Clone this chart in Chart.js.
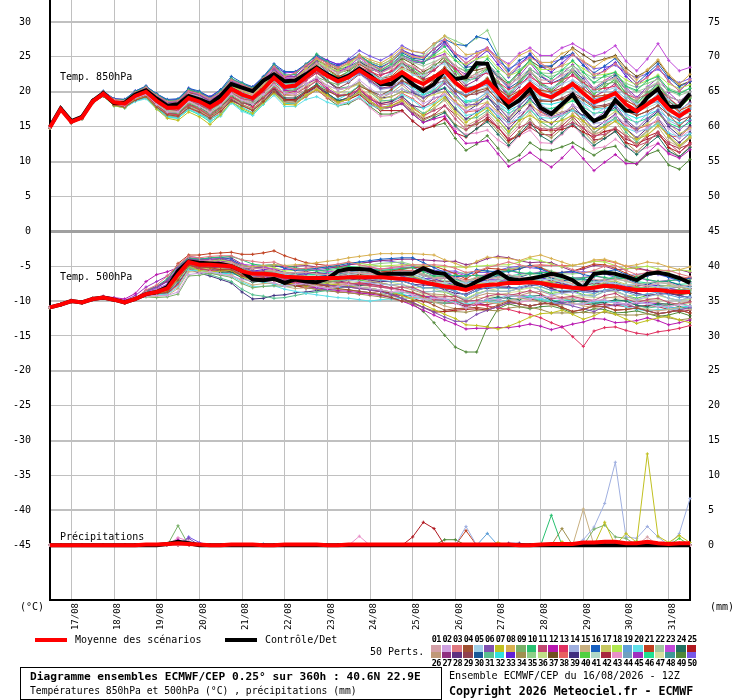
<!DOCTYPE html>
<html lang="fr">
<head>
<meta charset="UTF-8">
<title>Diagramme ensembles ECMWF/CEP - 40.6N 22.9E</title>
<script src="https://cdn.jsdelivr.net/npm/chart.js"></script>
<style>
  body { margin: 0; background: #fff; }
  #wrap { position: relative; width: 740px; height: 700px; overflow: hidden; font-family: 'DejaVu Sans Mono', monospace; color: #000; }
  #ens { position: absolute; left: 0; top: 0; }
  .t { position: absolute; white-space: nowrap; font-size: 10px; line-height: 10px; }
  .bar { position: absolute; height: 4px; width: 32px; }
  .box { position: absolute; width: 9.6px; height: 6.5px; }
  .num { position: absolute; width: 10.65px; text-align: center; font-size: 8.5px; line-height: 9px; font-weight: bold; letter-spacing: -0.6px; }
  #titlebox { position: absolute; left: 20px; top: 667px; width: 422px; height: 33px; border: 1px solid #000; box-sizing: border-box; }
</style>
</head>
<body>
<div id="wrap">
  <canvas id="ens" width="740" height="700"></canvas>

  <div class="t" style="left:60px;top:72px">Temp. 850hPa</div>
  <div class="t" style="left:60px;top:272px">Temp. 500hPa</div>
  <div class="t" style="left:60px;top:532px">Précipitations</div>
  <div class="t" style="left:20px;top:602px">(°C)</div>
  <div class="t" style="left:710px;top:602px">(mm)</div>

  <div class="bar" style="left:35px;top:638px;background:#ff0000"></div>
  <div class="t" style="left:75px;top:635px">Moyenne des scénarios</div>
  <div class="bar" style="left:225px;top:638px;background:#000"></div>
  <div class="t" style="left:265px;top:635px">Contrôle/Det</div>
  <div class="t" style="left:370px;top:647px">50 Perts.</div>
  <div id="perts"></div>

  <div id="titlebox"></div>
  <div class="t" style="left:30px;top:672px;font-size:11.2px;font-weight:bold">Diagramme ensembles ECMWF/CEP 0.25° sur 360h : 40.6N 22.9E</div>
  <div class="t" style="left:30px;top:686px;font-size:9.7px">Températures 850hPa et 500hPa (°C) , précipitations (mm)</div>
  <div class="t" style="left:449px;top:671px;font-size:10.1px">Ensemble ECMWF/CEP du 16/08/2026 - 12Z</div>
  <div class="t" style="left:449px;top:686px;font-size:11.6px;font-weight:bold">Copyright 2026 Meteociel.fr - ECMWF</div>
</div>

<script>
// --- données lues sur le diagramme (pas de 6h depuis le 16/08 12Z) ---
const days = ['17/08', '18/08', '19/08', '20/08', '21/08', '22/08', '23/08', '24/08',
              '25/08', '26/08', '27/08', '28/08', '29/08', '30/08', '31/08'];
const hours = Array.from({length: 61}, (_, i) => i * 6);
const leftTicks = [30, 25, 20, 15, 10, 5, 0, -5, -10, -15, -20, -25, -30, -35, -40, -45];
const rightTicks = [75, 70, 65, 60, 55, 50, 45, 40, 35, 30, 25, 20, 15, 10, 5, 0];

const memberColors = [
  '#d4a0a8', '#d0a0e0', '#e07880', '#a05030', '#a0d0e8', '#8050b0', '#c0c020', '#d8b050', '#78b068', '#28c070',
  '#c04870', '#b818b0', '#e03060', '#a0b0e0', '#c8b080', '#1860c0', '#c8c860', '#b0e850', '#60a0d8', '#60e0e8',
  '#c04020', '#a0c8a0', '#c048d8', '#207060', '#b01820', '#c09878', '#903080', '#603080', '#904050', '#185898',
  '#58c090', '#30e0e0', '#6020d8', '#a09050', '#90d088', '#c0e088', '#705020', '#e86060', '#403080', '#50d040',
  '#b0d8c8', '#a82840', '#e890c8', '#70a0c0', '#a030c0', '#20e090', '#d8e0a0', '#409898', '#508838', '#7858e8'
];

const t850Mean = [14.9, 17.5, 15.7, 16.3, 18.6, 19.7, 18.5, 18.3, 19.4, 20.0, 18.7, 17.7, 17.7, 19.1, 18.6, 17.8, 18.7, 20.4, 19.6, 19.1,
  20.4, 22.0, 20.7, 20.9, 22.1, 23.3, 22.3, 21.5, 22.1, 23.1, 22.1, 21.3, 21.8, 22.8, 21.8, 21.1, 22.1, 23.0, 21.3, 20.1,
  20.7, 21.5, 19.9, 18.5, 19.7, 21.1, 19.7, 19.2, 20.1, 21.1, 19.8, 18.5, 19.1, 19.8, 18.2, 17.2, 18.2, 19.2, 17.5, 16.5, 17.5];
const t850Ctrl = [15.0, 17.6, 15.8, 16.4, 18.7, 19.8, 18.4, 18.4, 19.6, 20.2, 19.0, 18.0, 18.2, 19.4, 18.9, 18.3, 19.4, 21.1, 20.6, 20.1,
  21.6, 22.5, 21.5, 21.6, 22.5, 23.5, 22.5, 21.7, 22.3, 23.3, 22.3, 21.1, 21.1, 22.5, 21.1, 20.1, 21.1, 23.0, 21.8, 22.1,
  24.1, 24.0, 19.9, 17.8, 18.8, 20.4, 17.7, 16.8, 18.2, 19.6, 17.3, 15.8, 16.5, 18.8, 17.3, 17.2, 19.2, 20.4, 17.8, 17.9, 19.7];
const t500Mean = [-10.9, -10.5, -10.0, -10.2, -9.7, -9.5, -9.8, -10.2, -9.7, -9.0, -8.7, -8.2, -6.2, -4.4, -4.8, -4.8, -4.9, -5.0, -5.7, -6.1,
  -6.1, -6.2, -6.5, -6.6, -6.7, -6.7, -6.7, -6.7, -6.6, -6.6, -6.6, -6.6, -6.7, -6.8, -7.0, -7.3, -7.6, -7.9, -8.1, -8.4,
  -7.9, -7.7, -7.6, -7.4, -7.4, -7.3, -7.4, -7.7, -7.9, -8.1, -8.2, -8.1, -7.8, -7.9, -8.2, -8.4, -8.4, -8.4, -8.6, -8.7, -8.7];
const t500Ctrl = [-10.9, -10.5, -10.0, -10.2, -9.7, -9.5, -9.8, -10.2, -9.7, -9.0, -8.7, -8.0, -5.7, -4.3, -4.5, -4.6, -4.7, -5.0, -5.7, -6.9,
  -7.0, -6.8, -7.4, -6.9, -7.2, -7.3, -6.8, -5.7, -5.4, -5.4, -5.5, -6.2, -6.1, -6.1, -6.1, -5.3, -5.9, -6.1, -7.4, -8.1,
  -7.2, -6.5, -5.8, -6.8, -7.0, -6.8, -6.5, -6.1, -6.4, -7.0, -8.1, -6.1, -5.9, -6.1, -6.5, -7.0, -6.1, -5.9, -6.2, -6.7, -7.4];
const precipMean = [0, 0, 0, 0, 0, 0, 0, 0, 0, 0.1, 0.1, 0.2, 0.3, 0.2, 0.1, 0, 0, 0.1, 0.1, 0.1,
  0, 0, 0.1, 0.1, 0.1, 0.1, 0, 0, 0.1, 0.1, 0.1, 0.1, 0.1, 0.1, 0.1, 0.1, 0.1, 0.1, 0.1, 0.1,
  0.1, 0.1, 0.1, 0.1, 0, 0, 0.1, 0.2, 0.2, 0.2, 0.4, 0.4, 0.5, 0.5, 0.3, 0.3, 0.5, 0.3, 0.2, 0.3, 0.3];
const precipCtrl = [0, 0, 0, 0, 0, 0, 0, 0, 0, 0, 0, 0.2, 0.5, 0.3, 0, 0, 0, 0, 0, 0,
  0, 0, 0, 0, 0, 0, 0, 0, 0, 0, 0, 0, 0, 0, 0, 0, 0, 0, 0, 0,
  0, 0, 0, 0, 0, 0, 0, 0, 0, 0, 0, 0, 0, 0, 0, 0, 0, 0, 0, 0, 0];

// perturbations 01..50, en dixièmes de °C
const t850Members = [
  "150 176 157 164 187 199 187 186 197 203 191 182 182 197 192 183 193 211 203 197 212 228 217 219 230 241 233 227 233 241 233 227 234 243 236 231 241 252 238 221 225 237 219 210 219 229 217 216 223 231 216 205 216 220 202 190 204 212 193 187 195",
  "149 174 157 162 186 195 183 180 191 196 182 171 171 186 179 170 181 197 188 182 196 210 198 197 211 221 209 203 206 217 205 195 198 204 196 183 191 196 183 173 175 180 169 153 169 176 167 164 168 181 173 155 156 166 154 142 148 162 147 133 145",
  "150 177 158 164 188 200 189 187 199 206 195 186 187 201 197 190 199 217 210 204 219 236 222 227 238 249 241 235 243 251 239 233 243 258 250 249 261 275 255 241 251 263 244 225 239 249 241 232 237 253 243 225 229 240 228 212 220 236 215 201 217",
  "148 174 155 162 184 194 181 178 188 193 178 167 165 177 171 162 172 187 180 173 186 200 188 187 201 209 201 194 196 208 201 195 203 216 208 203 216 220 201 193 201 205 187 177 187 197 187 186 189 196 188 177 179 184 172 166 172 180 167 151 165",
  "149 176 157 163 187 198 185 182 195 202 189 178 176 191 188 181 188 204 198 194 206 224 210 210 221 231 225 219 227 236 224 219 226 238 224 223 236 240 221 213 223 229 209 200 209 219 207 206 211 217 210 200 201 206 194 182 188 202 189 175 183",
  "150 175 158 165 187 199 188 187 197 205 193 185 186 201 195 186 197 215 208 201 216 230 215 215 229 243 228 217 221 227 215 205 206 213 200 191 199 212 198 181 182 193 179 161 179 196 175 167 181 193 176 160 171 182 160 147 162 174 153 145 159",
  "148 173 156 161 185 194 180 177 189 193 175 162 159 171 164 153 167 186 176 169 184 198 182 181 195 203 195 185 189 201 187 177 180 188 176 166 181 192 171 156 167 177 159 143 159 166 157 156 159 166 158 147 149 158 146 132 138 152 137 123 135",
  "149 176 158 163 187 198 187 184 196 203 190 181 179 194 191 182 190 209 202 195 210 228 217 218 233 247 238 233 241 253 246 241 250 263 258 256 269 280 268 253 255 260 249 237 252 259 242 242 255 261 244 235 246 250 230 217 232 246 225 211 225",
  "148 175 156 163 185 195 182 181 190 197 182 171 169 184 177 168 179 195 186 183 194 208 199 203 211 221 215 210 219 231 224 218 226 240 228 226 239 244 223 217 227 233 214 197 215 231 211 202 217 229 210 200 211 214 194 187 200 206 185 180 193",
  "150 177 159 164 188 200 189 188 200 207 196 187 188 203 199 190 201 219 212 205 220 238 224 225 239 254 243 233 241 253 241 231 240 253 246 241 253 265 245 231 235 247 229 213 229 246 227 218 231 245 228 213 223 228 208 202 216 222 203 197 205",
  "149 174 157 164 186 196 185 181 193 198 184 175 173 188 181 174 184 199 190 187 199 212 197 197 206 215 203 193 196 203 191 181 183 190 178 166 173 180 161 146 157 167 149 133 149 156 147 146 149 156 148 137 139 148 136 122 128 142 127 113 125",
  "149 176 157 164 186 198 187 186 196 201 189 180 179 192 189 182 189 205 199 193 204 218 202 201 211 218 205 195 196 203 191 178 178 183 168 156 161 165 143 126 127 130 111 93 102 113 102 92 105 121 104 87 99 110 97 97 112 126 111 105 117",
  "148 174 157 162 185 195 182 179 191 195 181 169 167 182 175 166 177 192 185 178 192 206 197 201 216 227 221 215 223 236 229 223 230 243 236 225 231 245 233 219 222 227 214 203 211 221 212 212 217 223 213 203 205 208 197 190 196 204 191 179 193",
  "150 175 158 163 187 199 188 185 198 203 192 183 184 197 194 185 196 212 203 200 212 230 213 213 223 233 221 211 215 226 213 203 206 218 203 193 207 218 197 181 189 200 184 167 183 201 182 172 185 199 183 167 177 188 167 154 168 180 159 151 165",
  "148 175 156 162 186 195 181 180 189 194 179 167 165 177 173 163 173 192 181 175 186 200 185 185 196 205 193 183 191 198 186 175 178 186 173 163 176 188 167 151 159 170 154 137 153 171 152 142 155 169 153 137 147 158 137 124 138 150 129 121 135",
  "150 177 158 165 188 201 190 189 201 208 197 189 190 205 201 192 203 222 213 207 222 240 229 229 240 251 243 237 245 253 241 235 243 256 248 246 261 275 268 266 279 275 249 230 245 253 237 237 249 255 238 227 237 248 227 212 226 240 220 207 215",
  "149 175 156 163 185 196 183 180 192 196 183 172 171 184 180 170 180 198 188 182 194 212 195 199 207 221 208 197 205 211 199 189 193 200 196 191 196 200 185 177 181 185 171 160 175 185 167 164 177 191 173 157 161 172 160 147 154 168 155 140 147",
  "149 176 157 164 186 198 187 185 197 202 190 181 182 195 189 183 193 209 200 197 209 227 216 219 233 247 235 230 239 251 243 238 246 258 250 246 251 258 245 239 247 251 234 223 229 241 232 232 237 243 233 223 225 228 217 210 216 224 211 205 210",
  "149 175 158 163 186 197 184 182 194 198 185 174 176 189 182 175 185 203 193 187 202 220 204 204 217 231 223 212 215 227 219 208 210 223 216 211 217 222 203 195 205 210 191 181 197 206 189 188 201 205 190 181 189 192 174 168 182 186 167 161 175",
  "148 174 155 162 184 194 181 177 186 190 175 163 162 175 168 158 165 184 172 166 182 195 179 179 189 193 185 180 185 193 181 175 183 196 188 176 183 196 183 166 169 179 165 155 162 173 163 162 166 173 164 155 156 160 148 142 147 154 141 135 140",
  "150 175 158 164 186 199 186 186 198 203 192 183 185 198 195 186 194 213 206 199 213 231 217 217 227 241 233 222 226 239 231 219 222 236 228 217 223 235 221 205 207 219 204 193 201 211 202 200 205 213 204 193 195 198 187 180 186 194 181 173 180",
  "149 174 157 163 185 196 183 182 191 198 184 173 172 187 183 173 181 200 193 186 200 218 207 211 225 239 231 225 233 245 237 231 238 250 242 237 243 250 237 229 237 241 224 213 221 233 223 222 227 233 223 213 215 218 207 200 206 214 201 195 200",
  "150 176 159 164 187 199 188 187 199 204 193 184 185 200 196 189 197 213 207 203 217 234 219 219 233 248 237 227 236 249 237 227 236 250 244 241 255 268 255 241 252 263 249 240 255 263 252 252 263 269 260 251 256 266 244 230 247 269 245 230 235",
  "149 174 156 163 185 195 182 181 190 195 181 170 169 182 178 168 178 193 184 181 192 206 191 191 201 211 198 187 191 199 186 175 178 183 168 156 163 170 151 136 147 157 139 123 139 156 137 128 141 155 138 123 133 143 122 110 124 136 115 107 120",
  "149 175 157 164 186 198 185 185 195 202 189 178 177 193 187 176 183 198 188 181 192 205 189 189 199 208 195 185 189 196 183 173 173 173 158 146 151 162 141 135 147 160 149 130 137 153 145 144 146 151 142 135 143 146 127 122 136 142 120 113 127",
  "148 175 156 162 186 195 182 179 189 196 181 170 169 182 176 167 177 195 185 179 191 206 195 194 203 217 209 203 206 213 201 191 198 210 196 186 201 214 193 177 185 197 179 163 179 196 177 167 171 176 158 140 143 148 137 132 144 157 135 120 133",
  "150 176 158 165 187 200 189 188 200 206 195 186 187 202 198 191 199 215 209 205 219 236 221 221 235 249 241 230 233 245 237 225 228 242 230 219 231 244 225 209 217 229 211 193 207 225 209 200 211 225 210 193 201 212 194 180 192 206 187 173 185",
  "148 174 156 161 185 194 181 178 188 193 178 167 165 178 172 163 173 188 181 174 186 203 187 187 197 207 198 187 191 203 189 183 186 193 180 177 191 195 175 161 171 181 164 147 163 181 162 154 167 181 163 147 157 168 147 134 148 162 140 127 141",
  "149 176 157 163 187 198 187 184 197 202 190 179 181 194 191 182 190 206 200 196 208 222 207 207 217 227 215 205 213 225 217 205 208 216 210 206 211 216 203 195 197 203 189 177 185 197 187 186 191 199 190 179 181 186 174 166 172 180 167 159 165",
  "149 175 157 162 186 197 186 183 193 201 187 176 178 193 186 177 188 207 198 192 207 225 214 218 232 246 238 232 236 244 232 228 236 250 243 241 256 270 251 235 237 240 221 205 215 233 222 212 219 233 218 203 213 223 202 190 204 212 193 187 195",
  "149 176 158 163 186 198 187 186 196 203 191 182 183 196 190 184 194 210 201 198 210 228 212 211 221 230 217 205 207 213 199 187 188 194 180 169 176 190 177 161 163 173 159 141 159 176 157 148 161 175 158 141 153 163 142 128 144 156 135 121 137",
  "148 173 156 161 184 194 180 177 187 192 177 165 163 175 168 161 168 184 178 170 184 198 183 184 195 209 195 189 197 209 201 195 202 214 206 196 203 216 203 187 189 199 184 173 181 193 183 182 186 193 184 175 176 180 168 162 167 174 161 155 160",
  "150 177 158 165 187 200 190 189 201 208 197 188 189 205 199 193 203 218 211 207 221 238 227 228 239 253 245 239 243 251 243 238 246 260 253 249 261 272 251 236 247 259 239 221 237 255 237 228 241 255 238 221 231 242 222 208 222 236 215 201 215",
  "148 175 156 163 185 195 182 179 189 194 179 168 167 180 174 164 174 192 182 176 188 202 187 187 197 207 195 185 189 197 185 175 178 184 170 159 166 172 153 145 155 160 144 127 143 161 142 134 147 161 143 127 137 148 127 114 128 142 120 107 121",
  "149 176 157 164 186 198 185 185 195 203 189 180 178 193 190 181 189 208 199 193 207 225 211 215 229 243 235 229 237 249 241 235 243 258 253 251 266 280 273 266 277 288 254 225 232 243 227 226 231 237 228 219 221 224 212 206 212 218 205 199 205",
  "149 174 157 162 186 196 183 182 191 198 184 173 172 185 182 173 181 197 191 185 197 212 201 205 219 233 225 215 219 227 219 213 220 233 226 215 221 235 221 205 207 220 204 193 201 211 202 200 205 211 203 193 195 198 187 180 186 192 180 173 179",
  "150 175 158 164 187 199 188 186 198 205 193 184 185 200 194 188 196 215 206 200 214 232 217 217 231 245 237 227 231 243 235 229 236 248 240 229 236 250 237 229 231 235 221 211 227 245 235 236 249 263 253 243 247 252 234 222 230 244 223 209 215",
  "148 174 155 162 185 194 181 178 187 192 177 165 164 176 170 160 170 189 180 173 184 198 183 183 193 203 191 185 193 205 193 183 186 198 190 179 185 200 187 171 173 185 171 153 161 181 171 162 167 173 158 141 151 162 152 146 152 158 137 135 149",
  "150 175 157 164 186 199 186 186 198 203 191 182 183 196 193 184 195 211 202 199 210 224 209 209 219 229 215 203 206 213 201 191 193 200 198 192 199 205 185 171 181 193 174 157 173 191 172 164 169 175 166 157 167 178 157 144 158 172 150 137 151",
  "149 175 156 163 186 196 183 183 193 198 184 175 173 188 184 174 182 201 192 189 204 222 211 215 229 243 231 221 229 241 233 227 234 246 232 221 236 250 229 213 222 233 214 197 213 231 212 202 215 229 213 197 207 218 197 182 196 210 190 177 191",
  "150 176 157 164 187 199 188 187 199 206 194 185 186 201 197 188 199 217 207 203 217 234 219 219 229 239 227 217 221 229 217 207 213 220 214 211 216 222 209 201 202 207 194 183 191 203 193 192 196 203 194 185 186 190 178 172 177 184 171 165 170",
  "148 175 157 162 186 195 182 179 191 195 181 170 169 182 176 170 178 193 186 179 190 204 189 189 199 209 197 187 191 199 187 177 180 186 172 161 167 180 167 151 153 163 149 131 139 149 139 138 151 165 148 131 133 144 132 126 132 138 125 119 125",
  "149 176 157 164 187 198 187 185 197 202 190 181 182 195 189 180 187 201 190 183 194 208 192 191 201 209 195 183 185 191 177 165 166 172 158 147 153 160 147 139 141 145 131 121 137 145 127 126 139 153 136 119 121 132 120 114 120 126 113 107 121",
  "149 175 157 162 186 196 185 181 193 197 185 174 173 189 183 174 185 203 193 187 202 220 209 213 223 233 221 215 223 235 227 217 220 233 226 216 223 235 221 206 209 220 207 190 199 216 205 197 203 216 206 190 193 203 190 177 184 197 183 170 177",
  "150 177 158 164 188 200 189 188 200 207 196 187 188 203 199 192 200 216 210 206 220 237 222 222 236 250 242 236 244 252 240 230 238 252 246 243 249 254 233 225 235 241 224 207 223 241 223 214 226 239 222 205 216 226 206 192 207 220 199 185 200",
  "148 173 156 162 184 194 180 177 187 191 176 164 162 174 167 157 167 186 174 167 182 200 183 183 196 211 203 193 197 209 201 195 198 204 198 195 201 206 193 185 187 191 179 169 177 187 177 176 181 187 178 169 171 174 162 156 162 168 155 149 155",
  "149 175 158 163 186 198 185 184 196 200 188 179 177 190 187 178 185 200 193 186 198 212 197 197 207 217 205 195 199 207 195 185 188 194 180 169 181 194 173 157 167 179 159 141 157 175 157 148 161 175 158 141 151 162 142 128 142 156 135 121 135",
  "149 174 157 162 186 196 183 180 192 196 183 172 171 184 181 172 180 196 190 184 196 214 203 207 221 235 227 221 229 241 229 219 226 240 234 225 231 244 231 217 219 231 213 195 211 229 213 204 217 231 214 197 207 218 198 184 198 212 191 177 191",
  "148 175 156 162 186 195 182 179 189 195 180 169 168 181 174 165 175 190 181 175 186 200 185 184 193 203 191 180 183 191 179 168 168 173 158 146 151 155 133 116 125 137 119 101 109 127 117 116 121 127 118 109 119 122 102 96 110 116 95 89 103",
  "150 175 158 163 187 199 188 187 197 204 192 183 184 199 195 186 197 215 206 200 214 232 221 225 239 253 245 239 247 259 251 245 253 266 258 255 269 275 255 247 257 263 244 233 241 251 242 242 247 253 243 233 235 238 227 220 226 232 220 213 219"
];

const t500Members = [
  "-109 -104 -100 -103 -97 -94 -98 -103 -97 -88 -84 -78 -57 -41 -43 -42 -45 -45 -51 -53 -53 -56 -60 -59 -59 -61 -62 -60 -58 -60 -61 -59 -59 -58 -58 -63 -68 -67 -67 -72 -69 -69 -66 -62 -66 -67 -64 -65 -71 -75 -72 -69 -70 -69 -70 -76 -78 -74 -74 -79 -77",
  "-109 -106 -100 -102 -98 -95 -97 -102 -98 -93 -92 -92 -87 -62 -60 -58 -61 -64 -69 -71 -71 -74 -79 -76 -75 -79 -82 -79 -76 -80 -82 -84 -87 -86 -92 -98 -96 -97 -103 -110 -103 -97 -98 -92 -94 -97 -94 -93 -99 -105 -104 -99 -98 -103 -104 -102 -104 -108 -108 -105 -107",
  "-108 -105 -99 -102 -96 -95 -97 -102 -96 -84 -77 -64 -48 -36 -38 -36 -35 -35 -41 -43 -45 -44 -50 -54 -53 -51 -49 -47 -44 -48 -51 -54 -52 -50 -48 -48 -48 -49 -53 -59 -57 -52 -48 -44 -48 -51 -49 -49 -49 -55 -60 -56 -50 -49 -56 -62 -59 -56 -56 -61 -65",
  "-110 -105 -101 -102 -97 -96 -98 -101 -97 -92 -90 -87 -70 -49 -51 -52 -55 -55 -64 -69 -67 -70 -75 -78 -77 -75 -79 -82 -84 -86 -88 -91 -95 -100 -100 -99 -106 -113 -111 -110 -109 -111 -106 -100 -104 -107 -104 -103 -109 -115 -112 -107 -108 -113 -112 -110 -114 -118 -116 -113 -117",
  "-109 -105 -99 -102 -98 -95 -98 -101 -97 -89 -85 -82 -64 -44 -46 -47 -46 -48 -57 -63 -61 -60 -61 -64 -67 -69 -67 -65 -62 -60 -62 -64 -63 -62 -62 -68 -74 -74 -73 -74 -73 -73 -71 -66 -68 -69 -69 -69 -73 -77 -77 -73 -72 -75 -77 -76 -78 -80 -81 -79 -81",
  "-109 -104 -100 -101 -97 -96 -98 -102 -96 -85 -79 -70 -52 -40 -42 -40 -39 -42 -51 -57 -59 -62 -67 -70 -73 -75 -77 -79 -80 -82 -84 -86 -91 -96 -102 -109 -116 -123 -129 -129 -119 -113 -108 -102 -104 -107 -104 -103 -103 -107 -111 -115 -108 -105 -104 -110 -114 -118 -116 -113 -109",
  "-109 -106 -100 -101 -97 -95 -99 -102 -97 -91 -89 -86 -68 -50 -56 -58 -57 -56 -65 -71 -69 -68 -73 -76 -79 -77 -75 -77 -78 -80 -82 -84 -87 -92 -98 -105 -112 -119 -125 -134 -135 -137 -140 -136 -130 -123 -118 -117 -113 -119 -126 -121 -114 -119 -126 -132 -128 -124 -122 -127 -131",
  "-108 -105 -100 -103 -97 -94 -98 -102 -98 -88 -86 -79 -60 -42 -44 -43 -46 -44 -49 -51 -49 -48 -49 -48 -47 -45 -43 -41 -38 -36 -34 -32 -32 -32 -32 -33 -34 -41 -46 -52 -43 -37 -38 -39 -42 -37 -34 -39 -44 -49 -46 -41 -40 -44 -50 -48 -44 -46 -51 -55 -51",
  "-110 -105 -100 -101 -97 -95 -99 -102 -96 -94 -95 -94 -90 -64 -63 -60 -63 -66 -75 -81 -79 -78 -79 -78 -77 -75 -73 -71 -68 -66 -64 -66 -69 -66 -65 -71 -78 -77 -76 -82 -81 -75 -76 -70 -72 -75 -74 -73 -77 -83 -82 -77 -76 -81 -82 -80 -82 -86 -86 -83 -85",
  "-109 -104 -99 -102 -96 -95 -98 -101 -97 -86 -79 -68 -50 -38 -40 -38 -37 -36 -41 -47 -49 -48 -49 -52 -55 -57 -55 -53 -50 -52 -54 -56 -55 -53 -52 -58 -64 -64 -63 -64 -63 -65 -61 -56 -59 -61 -59 -59 -64 -67 -67 -64 -66 -69 -67 -66 -69 -72 -71 -69 -72",
  "-109 -105 -101 -102 -96 -95 -98 -103 -97 -90 -88 -84 -65 -46 -52 -51 -51 -54 -63 -66 -65 -64 -69 -72 -75 -73 -71 -73 -74 -76 -78 -80 -82 -80 -80 -87 -94 -94 -93 -100 -99 -93 -90 -92 -89 -85 -90 -97 -95 -93 -97 -99 -92 -89 -97 -102 -98 -96 -102 -105 -101",
  "-108 -105 -99 -102 -96 -93 -95 -97 -89 -72 -62 -58 -52 -38 -40 -42 -45 -48 -57 -63 -65 -68 -73 -76 -79 -81 -83 -85 -86 -88 -90 -92 -95 -100 -106 -113 -120 -127 -133 -140 -139 -139 -138 -138 -136 -133 -136 -141 -137 -133 -130 -125 -126 -131 -130 -128 -124 -128 -134 -131 -127",
  "-109 -106 -100 -102 -97 -94 -98 -102 -98 -91 -89 -85 -67 -48 -54 -56 -55 -54 -63 -69 -67 -70 -75 -74 -73 -75 -77 -79 -76 -74 -76 -78 -81 -84 -88 -93 -98 -99 -99 -106 -105 -107 -110 -112 -116 -119 -124 -131 -137 -151 -165 -143 -138 -137 -142 -146 -148 -144 -142 -139 -135",
  "-109 -105 -100 -101 -97 -95 -97 -102 -97 -89 -87 -80 -61 -42 -48 -50 -49 -48 -57 -63 -61 -60 -65 -68 -71 -69 -67 -69 -70 -72 -74 -76 -77 -76 -82 -87 -86 -85 -91 -98 -91 -85 -86 -86 -82 -79 -84 -91 -89 -87 -92 -93 -86 -85 -92 -98 -94 -90 -96 -99 -95",
  "-109 -106 -101 -102 -97 -96 -98 -102 -96 -93 -93 -92 -82 -58 -58 -60 -63 -62 -71 -77 -75 -74 -79 -82 -81 -79 -81 -83 -84 -86 -88 -90 -93 -96 -95 -95 -101 -107 -111 -110 -101 -102 -104 -99 -96 -98 -102 -107 -105 -103 -107 -109 -108 -104 -104 -109 -112 -114 -112 -109 -112",
  "-108 -105 -100 -101 -97 -95 -99 -101 -97 -88 -84 -78 -56 -39 -40 -38 -37 -40 -49 -51 -49 -48 -53 -56 -55 -53 -51 -49 -46 -44 -42 -40 -39 -38 -38 -45 -52 -59 -65 -64 -55 -57 -58 -58 -54 -49 -54 -61 -59 -57 -62 -65 -58 -55 -62 -68 -64 -60 -66 -71 -67",
  "-109 -105 -99 -102 -98 -95 -98 -102 -96 -90 -86 -83 -64 -46 -52 -54 -53 -52 -61 -67 -65 -64 -65 -68 -71 -73 -71 -69 -66 -64 -62 -60 -62 -60 -64 -69 -74 -74 -73 -78 -75 -75 -71 -66 -68 -69 -72 -72 -71 -75 -78 -79 -73 -71 -76 -80 -82 -79 -78 -80 -83",
  "-109 -104 -100 -102 -96 -95 -98 -103 -97 -89 -85 -79 -58 -42 -44 -42 -41 -44 -49 -51 -49 -52 -57 -56 -55 -53 -51 -49 -44 -46 -48 -50 -49 -48 -48 -49 -50 -51 -51 -52 -50 -49 -48 -48 -44 -39 -42 -47 -51 -49 -46 -43 -44 -49 -54 -52 -50 -54 -58 -55 -57",
  "-109 -105 -100 -102 -97 -96 -98 -101 -97 -90 -88 -81 -62 -45 -48 -50 -50 -50 -59 -65 -63 -62 -67 -70 -69 -67 -69 -71 -68 -66 -68 -70 -72 -71 -76 -81 -81 -81 -86 -92 -85 -80 -81 -82 -80 -76 -79 -85 -85 -84 -87 -89 -84 -82 -87 -92 -90 -87 -91 -95 -93",
  "-109 -106 -100 -102 -97 -96 -98 -102 -97 -92 -91 -90 -80 -56 -56 -58 -61 -64 -73 -79 -79 -78 -83 -86 -89 -91 -93 -95 -96 -98 -100 -98 -97 -96 -96 -97 -98 -99 -99 -104 -101 -101 -102 -98 -96 -93 -96 -101 -105 -105 -104 -101 -100 -103 -108 -112 -114 -112 -112 -111 -109",
  "-109 -104 -100 -102 -96 -94 -98 -102 -96 -86 -79 -70 -46 -34 -34 -32 -31 -30 -33 -33 -31 -28 -35 -40 -45 -47 -49 -51 -52 -54 -56 -58 -57 -54 -52 -51 -50 -55 -61 -68 -59 -53 -54 -56 -54 -49 -52 -59 -59 -57 -52 -47 -48 -53 -60 -66 -64 -60 -64 -69 -67",
  "-109 -105 -100 -102 -97 -95 -98 -102 -97 -89 -85 -80 -59 -43 -45 -44 -47 -47 -52 -57 -59 -58 -59 -62 -65 -67 -65 -63 -60 -58 -60 -62 -61 -60 -60 -61 -66 -71 -71 -72 -65 -65 -66 -66 -64 -61 -64 -69 -69 -69 -72 -73 -68 -67 -72 -76 -74 -72 -76 -79 -77",
  "-108 -105 -100 -102 -96 -95 -98 -102 -97 -87 -82 -76 -57 -40 -42 -40 -43 -42 -47 -49 -51 -54 -55 -54 -53 -55 -57 -59 -56 -54 -52 -54 -53 -52 -52 -57 -62 -61 -59 -64 -63 -63 -60 -56 -60 -61 -58 -59 -65 -67 -66 -64 -67 -69 -66 -66 -70 -72 -70 -70 -73",
  "-109 -105 -101 -102 -97 -95 -99 -102 -97 -91 -89 -85 -66 -48 -54 -56 -59 -58 -67 -73 -71 -70 -75 -78 -77 -75 -77 -79 -80 -78 -76 -78 -81 -84 -88 -93 -98 -99 -99 -106 -103 -97 -94 -96 -98 -93 -92 -99 -103 -101 -100 -103 -102 -98 -100 -106 -108 -104 -104 -108 -111",
  "-110 -105 -100 -102 -98 -95 -98 -102 -97 -91 -88 -84 -65 -47 -53 -52 -55 -58 -63 -65 -67 -70 -75 -78 -81 -79 -77 -79 -80 -82 -84 -86 -91 -96 -102 -109 -116 -115 -113 -112 -111 -113 -108 -102 -104 -107 -104 -103 -109 -115 -112 -107 -108 -113 -112 -110 -114 -118 -116 -113 -117",
  "-109 -104 -100 -102 -97 -95 -97 -102 -97 -88 -86 -82 -60 -42 -48 -46 -45 -48 -57 -63 -63 -66 -67 -66 -69 -71 -73 -75 -76 -74 -72 -74 -77 -80 -84 -89 -90 -91 -97 -102 -93 -89 -90 -90 -92 -88 -86 -91 -95 -99 -102 -103 -96 -94 -94 -98 -100 -102 -106 -103 -101",
  "-109 -105 -99 -102 -97 -94 -98 -102 -97 -85 -79 -72 -54 -39 -42 -40 -39 -38 -47 -53 -51 -50 -51 -50 -49 -51 -53 -51 -48 -46 -44 -42 -41 -40 -40 -41 -42 -43 -43 -48 -45 -39 -36 -38 -42 -45 -44 -45 -51 -57 -54 -49 -50 -55 -54 -52 -56 -60 -58 -55 -59",
  "-109 -105 -100 -102 -98 -95 -98 -102 -97 -91 -87 -83 -64 -46 -49 -51 -53 -52 -60 -66 -65 -64 -69 -72 -71 -69 -71 -73 -70 -68 -70 -72 -72 -71 -76 -77 -78 -84 -89 -90 -82 -82 -80 -80 -82 -78 -76 -82 -87 -87 -85 -86 -86 -84 -85 -89 -92 -90 -89 -92 -95",
  "-109 -105 -100 -101 -97 -95 -98 -103 -97 -88 -84 -78 -59 -41 -43 -41 -40 -43 -52 -54 -52 -55 -60 -59 -58 -60 -62 -64 -61 -59 -61 -63 -62 -61 -65 -70 -71 -72 -72 -77 -74 -74 -71 -67 -69 -70 -69 -70 -74 -78 -77 -74 -76 -76 -77 -77 -79 -81 -81 -80 -82",
  "-109 -105 -100 -102 -97 -95 -98 -101 -97 -91 -89 -83 -62 -46 -52 -54 -57 -56 -61 -63 -61 -60 -61 -64 -67 -65 -63 -61 -58 -56 -54 -56 -59 -58 -58 -63 -68 -67 -67 -74 -71 -67 -64 -64 -66 -61 -60 -67 -71 -69 -68 -71 -70 -67 -68 -74 -76 -72 -72 -77 -79",
  "-109 -105 -100 -103 -97 -95 -98 -102 -97 -91 -90 -87 -72 -52 -58 -62 -67 -72 -83 -91 -93 -96 -95 -92 -89 -87 -85 -83 -84 -86 -88 -90 -89 -88 -88 -95 -102 -103 -101 -100 -99 -101 -98 -94 -92 -95 -100 -101 -99 -97 -102 -105 -100 -99 -100 -106 -110 -108 -106 -103 -107",
  "-109 -106 -100 -102 -97 -95 -98 -102 -98 -92 -90 -86 -68 -50 -56 -58 -61 -60 -65 -71 -73 -76 -77 -76 -79 -81 -83 -81 -78 -80 -82 -84 -87 -90 -94 -95 -96 -97 -101 -106 -103 -99 -96 -92 -94 -95 -98 -99 -99 -99 -102 -103 -102 -100 -99 -102 -104 -106 -110 -109 -107",
  "-109 -105 -99 -102 -97 -95 -98 -102 -96 -87 -81 -72 -54 -40 -42 -43 -45 -44 -52 -57 -55 -54 -59 -62 -61 -59 -61 -63 -60 -58 -60 -62 -61 -64 -68 -68 -68 -73 -77 -82 -74 -69 -70 -70 -72 -68 -66 -71 -75 -79 -77 -73 -72 -75 -80 -79 -76 -78 -82 -84 -82",
  "-109 -105 -100 -102 -96 -95 -98 -102 -97 -89 -85 -80 -61 -42 -45 -44 -47 -50 -59 -65 -67 -70 -75 -78 -81 -83 -85 -87 -88 -90 -92 -94 -97 -100 -104 -109 -114 -115 -115 -116 -113 -113 -114 -110 -108 -109 -112 -117 -117 -117 -116 -117 -116 -119 -120 -120 -118 -120 -124 -127 -125",
  "-109 -105 -100 -102 -97 -94 -98 -102 -97 -90 -86 -80 -62 -44 -46 -44 -47 -50 -55 -57 -59 -62 -63 -62 -61 -59 -57 -55 -52 -50 -48 -46 -45 -44 -48 -53 -58 -59 -59 -60 -57 -57 -58 -54 -52 -49 -52 -57 -61 -61 -60 -57 -56 -59 -64 -64 -62 -60 -64 -67 -69",
  "-109 -105 -100 -102 -97 -95 -98 -102 -97 -90 -86 -81 -60 -43 -45 -46 -45 -47 -55 -60 -59 -62 -67 -66 -65 -67 -69 -71 -72 -74 -72 -70 -73 -76 -80 -81 -82 -87 -91 -96 -89 -85 -82 -82 -84 -81 -80 -85 -89 -93 -92 -90 -84 -87 -92 -92 -90 -92 -96 -99 -97",
  "-109 -105 -100 -102 -97 -95 -98 -102 -97 -89 -85 -79 -58 -41 -44 -43 -43 -45 -53 -58 -57 -57 -59 -62 -65 -67 -69 -67 -64 -62 -64 -66 -69 -68 -68 -73 -78 -83 -83 -84 -77 -77 -78 -74 -72 -73 -76 -81 -81 -81 -80 -81 -80 -83 -84 -84 -82 -84 -88 -91 -89",
  "-109 -105 -100 -102 -97 -95 -99 -102 -97 -92 -91 -90 -77 -54 -56 -54 -57 -60 -65 -67 -65 -64 -65 -64 -67 -69 -67 -65 -62 -60 -58 -56 -57 -56 -56 -61 -66 -65 -65 -70 -67 -61 -58 -54 -52 -49 -48 -49 -49 -49 -46 -43 -42 -45 -50 -54 -56 -58 -62 -65 -67",
  "-109 -105 -100 -102 -97 -95 -98 -102 -97 -92 -90 -88 -74 -54 -60 -64 -69 -74 -87 -97 -96 -92 -91 -88 -87 -85 -83 -81 -78 -76 -74 -72 -72 -71 -76 -81 -81 -81 -86 -92 -85 -80 -80 -80 -82 -78 -76 -82 -87 -87 -85 -86 -86 -84 -85 -89 -92 -90 -89 -92 -95",
  "-109 -105 -100 -102 -97 -95 -98 -102 -96 -89 -86 -80 -59 -42 -47 -48 -47 -46 -55 -61 -63 -62 -63 -66 -69 -71 -73 -71 -68 -70 -72 -74 -77 -76 -82 -87 -86 -87 -93 -98 -89 -85 -86 -86 -82 -79 -84 -89 -87 -85 -91 -93 -86 -85 -92 -96 -92 -90 -96 -99 -95",
  "-109 -105 -100 -102 -97 -95 -98 -102 -97 -90 -86 -82 -61 -44 -47 -46 -48 -50 -56 -59 -58 -58 -62 -64 -64 -63 -62 -61 -59 -58 -59 -60 -61 -61 -62 -64 -68 -72 -75 -76 -69 -68 -68 -67 -68 -65 -64 -68 -71 -72 -76 -74 -71 -69 -71 -75 -78 -76 -74 -77 -79",
  "-109 -105 -100 -102 -97 -95 -98 -102 -98 -92 -91 -89 -76 -52 -54 -52 -55 -58 -63 -65 -67 -70 -75 -78 -81 -83 -85 -87 -88 -90 -88 -86 -89 -92 -96 -101 -102 -103 -103 -108 -105 -105 -102 -98 -96 -97 -100 -105 -105 -105 -104 -106 -104 -106 -108 -108 -106 -108 -112 -115 -113",
  "-109 -105 -100 -102 -97 -95 -98 -102 -97 -89 -87 -83 -65 -46 -48 -46 -49 -52 -61 -63 -61 -64 -69 -72 -75 -77 -79 -77 -74 -76 -78 -80 -83 -86 -90 -95 -96 -97 -97 -102 -99 -99 -100 -100 -102 -99 -98 -96 -97 -95 -99 -103 -106 -107 -106 -109 -114 -114 -112 -112 -111",
  "-109 -105 -100 -102 -97 -95 -98 -102 -97 -91 -88 -84 -66 -47 -52 -53 -52 -52 -61 -66 -64 -63 -64 -63 -66 -68 -70 -68 -65 -63 -65 -67 -67 -66 -66 -71 -76 -81 -81 -82 -75 -75 -76 -76 -74 -71 -70 -75 -79 -81 -82 -79 -74 -77 -82 -86 -84 -82 -82 -84 -87",
  "-109 -105 -100 -102 -97 -94 -96 -99 -92 -80 -72 -64 -50 -36 -38 -40 -43 -46 -55 -61 -63 -66 -71 -74 -77 -79 -81 -83 -84 -86 -88 -90 -93 -92 -92 -93 -94 -99 -103 -108 -105 -101 -98 -94 -92 -93 -96 -101 -101 -101 -100 -101 -100 -102 -104 -104 -102 -104 -108 -111 -109",
  "-109 -105 -100 -102 -97 -95 -98 -102 -97 -91 -89 -85 -64 -46 -52 -54 -53 -52 -61 -67 -65 -64 -65 -64 -63 -61 -59 -61 -62 -60 -58 -56 -55 -54 -58 -63 -64 -65 -69 -74 -67 -63 -64 -64 -62 -59 -62 -67 -67 -67 -70 -72 -69 -65 -67 -72 -74 -72 -72 -76 -75",
  "-109 -105 -100 -102 -97 -95 -98 -102 -97 -90 -87 -81 -63 -44 -47 -46 -48 -50 -58 -63 -64 -66 -70 -72 -74 -75 -76 -77 -77 -78 -79 -80 -82 -84 -87 -91 -92 -93 -93 -98 -95 -95 -92 -88 -86 -87 -90 -95 -95 -95 -94 -95 -94 -96 -98 -98 -96 -98 -102 -105 -103",
  "-109 -105 -100 -102 -97 -95 -98 -102 -97 -89 -86 -81 -60 -43 -46 -45 -45 -45 -53 -58 -59 -59 -61 -61 -61 -62 -63 -64 -64 -63 -62 -61 -61 -61 -62 -67 -72 -77 -77 -78 -71 -71 -72 -72 -70 -67 -66 -71 -75 -79 -78 -75 -70 -73 -78 -82 -80 -78 -78 -80 -83",
  "-109 -105 -100 -102 -97 -95 -98 -102 -97 -90 -88 -84 -65 -46 -51 -52 -54 -54 -60 -63 -64 -66 -70 -72 -74 -75 -76 -77 -78 -80 -82 -84 -89 -96 -104 -115 -131 -149 -166 -173 -173 -137 -111 -104 -108 -111 -108 -107 -111 -117 -116 -111 -112 -117 -116 -114 -118 -122 -120 -116 -121",
  "-109 -105 -100 -102 -97 -95 -98 -102 -97 -88 -84 -79 -60 -41 -44 -43 -43 -43 -49 -52 -51 -50 -51 -54 -57 -55 -53 -51 -48 -46 -44 -42 -43 -46 -50 -55 -56 -57 -57 -62 -59 -59 -56 -52 -50 -52 -54 -59 -59 -59 -58 -59 -61 -66 -64 -62 -60 -62 -66 -69 -67"
];

// précipitations non nulles des perturbations : [perturbation, pas, mm]
const precipSpikes = [
  [9, 12, 2.8], [43, 12, 1.1], [32, 12, 0.6], [12, 12, 0.8], [50, 13, 1.2], [6, 13, 1.0], [43, 13, 0.6], [50, 14, 0.4],
  [19, 20, 0.2], [43, 29, 1.3], [25, 34, 1.2], [25, 35, 3.3], [25, 36, 2.4], [49, 37, 0.8], [49, 38, 0.8],
  [21, 39, 2.1], [14, 39, 2.7], [19, 41, 1.7], [7, 42, 0.4], [28, 43, 0.3], [28, 44, 0.3],
  [10, 47, 4.3], [34, 48, 2.4], [7, 48, 0.5], [15, 50, 5.2],
  [14, 50, 0.8], [14, 51, 2.6], [14, 52, 6.0], [14, 53, 11.9], [14, 54, 1.2], [14, 55, 1.0], [14, 56, 2.7],
  [14, 57, 1.2], [14, 59, 1.7], [14, 60, 6.7],
  [9, 51, 2.3], [9, 52, 2.9], [9, 53, 1.2], [9, 54, 1.0],
  [7, 52, 3.3], [7, 54, 1.7], [7, 55, 0.4], [7, 56, 13.1], [7, 57, 1.3], [7, 58, 0.4], [7, 59, 1.4], [7, 60, 0.4],
  [1, 56, 1.2], [40, 55, 0.6], [40, 59, 1.0], [37, 58, 0.3], [37, 59, 0.3]
];

// axe gauche en °C, axe droit décalé de 45 (mm sur la partie basse)
const yMin = -52.84, yMax = 33.15, rightShift = 45;
const fontMono = "'DejaVu Sans Mono', monospace";

const tenths = s => s.split(' ').map(v => Number(v) / 10);
const precipMembers = memberColors.map(() => hours.map(() => 0));
precipSpikes.forEach(([m, step, mm]) => { precipMembers[m - 1][step] = mm; });

const datasets = [];
function addMembers(series, axis) {
  series.forEach((vals, k) => {
    datasets.push({
      data: vals,
      yAxisID: axis,
      order: 3,
      borderColor: memberColors[k],
      borderWidth: 1,
      pointStyle: 'cross',
      pointRadius: 1.6,
      pointBorderWidth: 1,
      pointBorderColor: memberColors[k],
      pointBackgroundColor: memberColors[k]
    });
  });
}
function addMain(vals, axis, color, order) {
  datasets.push({ data: vals, yAxisID: axis, order: order, borderColor: color, borderWidth: 4, pointRadius: 0 });
}
addMembers(t850Members.map(tenths), 'y');
addMembers(t500Members.map(tenths), 'y');
addMembers(precipMembers, 'yR');
addMain(t850Ctrl, 'y', '#000000', 1);
addMain(t500Ctrl, 'y', '#000000', 1);
addMain(precipCtrl, 'yR', '#000000', 1);
addMain(t850Mean, 'y', '#ff0000', 0);
addMain(t500Mean, 'y', '#ff0000', 0);
addMain(precipMean, 'yR', '#ff0000', 0);

function noPad(s) { s.paddingTop = 0; s.paddingBottom = 0; s.paddingLeft = 0; s.paddingRight = 0; }

new Chart(document.getElementById('ens'), {
  type: 'line',
  data: { labels: hours, datasets: datasets },
  options: {
    responsive: false,
    animation: false,
    devicePixelRatio: 1,
    events: [],
    layout: { padding: 0, autoPadding: false },
    elements: { line: { tension: 0 } },
    plugins: { legend: { display: false }, tooltip: { enabled: false } },
    scales: {
      x: {
        type: 'category',
        offset: false,
        grid: { color: '#c0c0c0', lineWidth: 1, drawTicks: false },
        border: { display: true, color: '#000', width: 2 },
        ticks: {
          autoSkip: false, minRotation: 90, maxRotation: 90, padding: 3, labelOffset: 4,
          color: '#000', font: { family: fontMono, size: 9 },
          callback: v => days[(hours[v] - 12) / 24]
        },
        afterBuildTicks: s => { s.ticks = s.ticks.filter(t => hours[t.value] % 24 === 12); },
        afterFit: s => { s.height = 100; noPad(s); }
      },
      y: {
        position: 'left',
        min: yMin,
        max: yMax,
        grid: {
          drawTicks: false,
          color: c => c.tick.value === 0 ? '#a0a0a0' : '#c0c0c0',
          lineWidth: c => c.tick.value === 0 ? 3 : (c.tick.value % 10 === 0 ? 2 : 1)
        },
        border: { display: true, color: '#000', width: 2 },
        ticks: { padding: 19, color: '#000', font: { family: fontMono, size: 10 } },
        afterBuildTicks: s => { s.ticks = leftTicks.map(v => ({ value: v })); },
        afterFit: s => { s.width = 50; noPad(s); }
      },
      yR: {
        position: 'right',
        min: yMin + rightShift,
        max: yMax + rightShift,
        grid: { display: false, drawTicks: false },
        border: { display: true, color: '#000', width: 2 },
        ticks: { padding: 18, color: '#000', font: { family: fontMono, size: 10 } },
        afterBuildTicks: s => { s.ticks = rightTicks.map(v => ({ value: v })); },
        afterFit: s => { s.width = 50; noPad(s); }
      }
    }
  }
});

// grille des couleurs des 50 perturbations
const perts = document.getElementById('perts');
memberColors.forEach((c, k) => {
  const row = k < 25 ? 0 : 1;
  const x = 431 + (k % 25) * 10.65;
  const box = document.createElement('div');
  box.className = 'box';
  box.style.left = x + 'px';
  box.style.top = (645 + row * 6.5) + 'px';
  box.style.background = c;
  perts.appendChild(box);
  const num = document.createElement('div');
  num.className = 'num';
  num.style.left = x + 'px';
  num.style.top = (row ? 659 : 635) + 'px';
  num.textContent = String(k + 1).padStart(2, '0');
  perts.appendChild(num);
});
</script>
</body>
</html>
